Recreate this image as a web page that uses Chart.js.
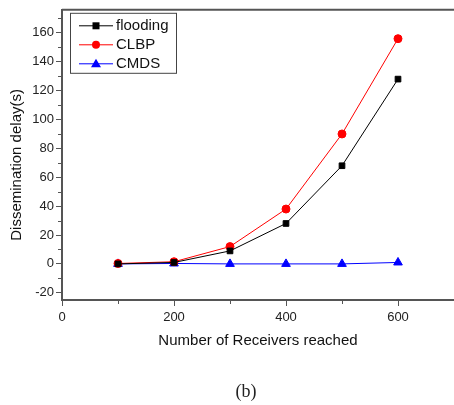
<!DOCTYPE html>
<html>
<head>
<meta charset="utf-8">
<script src="https://cdn.jsdelivr.net/npm/chart.js@4.4.1/dist/chart.umd.min.js"></script>
<style>
  body { margin: 0; background: #fff; }
  #wrap { width: 454px; height: 405px; }
</style>
</head>
<body>
<div id="wrap"><canvas id="grafico" width="454" height="405"></canvas></div>
<script>
// receivers reached
let receptores = [100, 200, 300, 400, 500, 600];
// dissemination delay (s) per protocol
let flooding = [0, 1, 9, 28, 68, 128];
let clbp = [0.3, 1.5, 12, 38, 90, 156];
let cmds = [0, 0.3, 0, 0, 0, 1];

let ticksX = [0, 200, 400, 600];
let ticksY = [-20, 0, 20, 40, 60, 80, 100, 120, 140, 160];

const ejeColor = "#555";
const fuente = "'Liberation Sans', Arial, sans-serif";

function puntos(valores){
    return valores.map((v, i) => ({ x: receptores[i], y: v }));
}

// minor ticks, top border, y title, boxed legend and the "(b)" caption
const extras = {
    id: "extras",
    afterDraw(chart){
        const ctx = chart.ctx;
        const area = chart.chartArea;
        const sx = chart.scales.x;
        const sy = chart.scales.y;
        ctx.save();
        ctx.strokeStyle = ejeColor;
        ctx.lineWidth = 1;
        ctx.beginPath();
        for(let v = -20; v <= 170; v += 20){
            let y = Math.round(sy.getPixelForValue(v + 10)) + 0.5;
            if(y < area.top) continue;
            ctx.moveTo(area.left - 4, y);
            ctx.lineTo(area.left, y);
        }
        for(let v = 100; v < 700; v += 200){
            let x = Math.round(sx.getPixelForValue(v)) + 0.5;
            ctx.moveTo(x, area.bottom);
            ctx.lineTo(x, area.bottom + 4);
        }
        ctx.stroke();

        ctx.lineWidth = 2;
        ctx.beginPath();
        ctx.moveTo(area.left, area.top);
        ctx.lineTo(area.right, area.top);
        ctx.stroke();

        // y axis title
        ctx.fillStyle = "#111";
        ctx.font = "15px " + fuente;
        ctx.textAlign = "center";
        ctx.textBaseline = "middle";
        ctx.save();
        ctx.translate(17, (area.top + area.bottom) / 2 + 10);
        ctx.rotate(-Math.PI / 2);
        ctx.fillText("Dissemination delay(s)", 0, 0);
        ctx.restore();

        // caption
        ctx.font = "18px 'Liberation Serif', 'Times New Roman', serif";
        ctx.fillStyle = "#222";
        ctx.fillText("(b)", (area.left + area.right) / 2 - 12, 392);

        // legend
        const bx = area.left + 8, by = area.top + 3, bw = 106, bh = 60;
        ctx.lineWidth = 1;
        ctx.strokeStyle = "#444";
        ctx.fillStyle = "#fff";
        ctx.fillRect(bx, by, bw, bh);
        ctx.strokeRect(bx + 0.5, by + 0.5, bw, bh);
        ctx.textAlign = "left";
        chart.data.datasets.forEach((ds, i) => {
            let y = by + 13 + i * 19;
            ctx.strokeStyle = ds.borderColor;
            ctx.lineWidth = 1;
            ctx.beginPath();
            ctx.moveTo(bx + 9, y);
            ctx.lineTo(bx + 43, y);
            ctx.stroke();
            ctx.fillStyle = ds.pointBackgroundColor;
            let mx = bx + 26;
            ctx.beginPath();
            if(ds.pointStyle === "rect"){
                ctx.fillRect(mx - 3.5, y - 3.5, 7, 7);
            } else if(ds.pointStyle === "circle"){
                ctx.arc(mx, y, 4, 0, Math.PI * 2);
                ctx.fill();
            } else {
                ctx.moveTo(mx, y - 5);
                ctx.lineTo(mx + 5, y + 3.5);
                ctx.lineTo(mx - 5, y + 3.5);
                ctx.closePath();
                ctx.fill();
            }
            ctx.fillStyle = "#111";
            ctx.font = "15px " + fuente;
            ctx.textBaseline = "middle";
            ctx.fillText(ds.label, bx + 46, y + 0.5);
        });
        ctx.restore();
    }
};

new Chart(document.getElementById("grafico"), {
    type: "line",
    data: {
        datasets: [
            {
                label: "flooding",
                data: puntos(flooding),
                borderColor: "#000",
                pointBackgroundColor: "#000",
                pointBorderColor: "#000",
                pointStyle: "rect",
                pointRadius: 4,
                borderWidth: 1
            },
            {
                label: "CLBP",
                data: puntos(clbp),
                borderColor: "#ff0000",
                pointBackgroundColor: "#ff0000",
                pointBorderColor: "#ff0000",
                pointStyle: "circle",
                pointRadius: 4,
                borderWidth: 1
            },
            {
                label: "CMDS",
                data: puntos(cmds),
                borderColor: "#0000ff",
                pointBackgroundColor: "#0000ff",
                pointBorderColor: "#0000ff",
                pointStyle: "triangle",
                pointRadius: 5,
                borderWidth: 1
            }
        ]
    },
    options: {
        responsive: false,
        animation: false,
        layout: { autoPadding: false, padding: { top: 8, right: 0, left: 0, bottom: 55 } },
        plugins: {
            legend: { display: false },
            tooltip: { enabled: false }
        },
        scales: {
            x: {
                type: "linear",
                min: 0,
                max: 700,
                afterBuildTicks: s => { s.ticks = ticksX.map(v => ({ value: v })); },
                afterFit: s => { s.height = 50; },
                grid: { display: true, drawOnChartArea: false, tickLength: 6, color: ejeColor, lineWidth: 1 },
                border: { display: true, color: ejeColor, width: 2 },
                ticks: { color: "#222", padding: 4, maxRotation: 0, font: { family: fuente, size: 13 } },
                title: {
                    display: true,
                    text: "Number of Receivers reached",
                    color: "#111",
                    padding: { top: 3, bottom: 0 },
                    font: { family: fuente, size: 15 }
                }
            },
            y: {
                min: -25,
                max: 176,
                afterBuildTicks: s => { s.ticks = ticksY.map(v => ({ value: v })); },
                afterFit: s => { s.width = 62; },
                grid: { display: true, drawOnChartArea: false, tickLength: 6, color: ejeColor, lineWidth: 1 },
                border: { display: true, color: ejeColor, width: 2 },
                ticks: { color: "#222", padding: 2, font: { family: fuente, size: 13 } }
            }
        }
    },
    plugins: [extras]
});
</script>
</body>
</html>
